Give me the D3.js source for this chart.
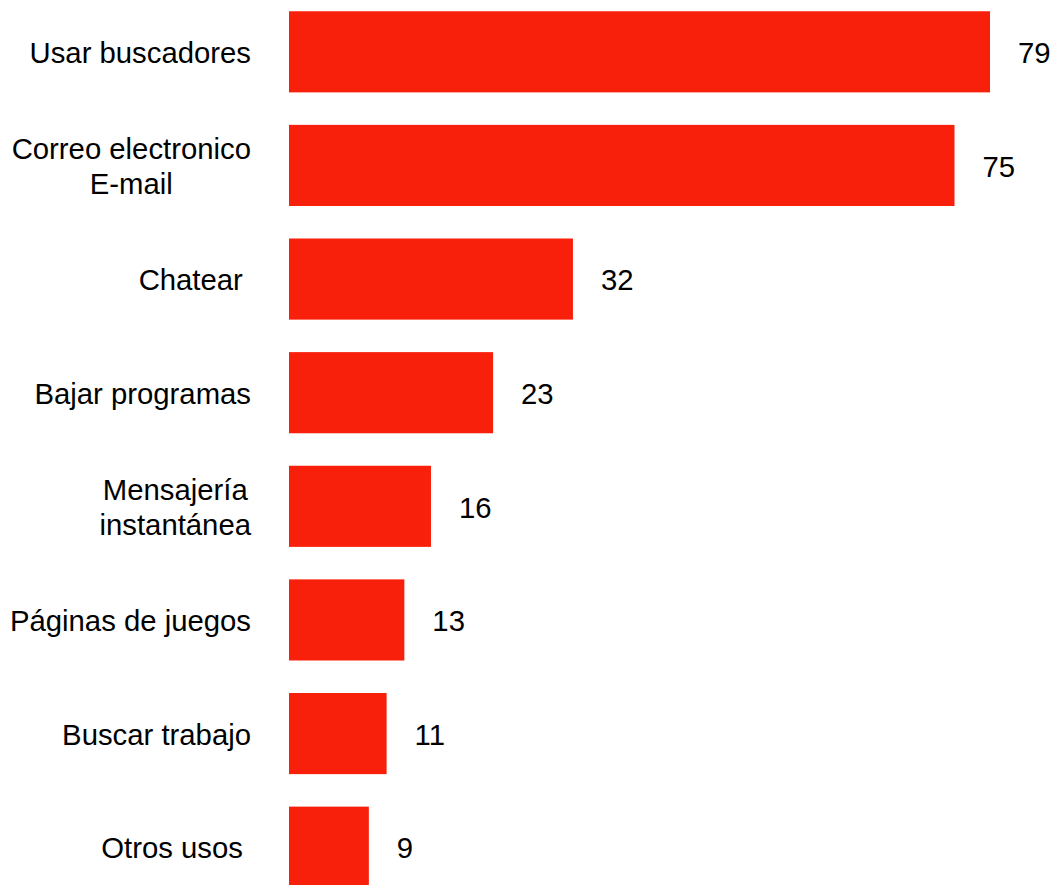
<!DOCTYPE html>
<html lang="es">
<head>
<meta charset="UTF-8">
<title>Usos de Internet</title>
<script src="https://d3js.org/d3.v7.min.js"></script>
<style>
  html, body { margin: 0; padding: 0; background: #fff; }
  svg text { font-family: "Liberation Sans", Arial, sans-serif; font-size: 29.3px; fill: #000; white-space: pre; }
</style>
</head>
<body>
<div id="chart"></div>
<script>
// data
const categories = ["Usar buscadores", "Correo electronico\nE-mail", "Chatear ", "Bajar programas",
                    "Mensajería\ninstantánea", "Páginas de juegos", "Buscar trabajo", "Otros usos "];
const values = [79, 75, 32, 23, 16, 13, 11, 9];

const width = 1056, height = 885;
const barLeft = 289, labelRight = 251;

const svg = d3.select("#chart").append("svg")
    .attr("width", width)
    .attr("height", height);

const x = d3.scaleLinear().domain([0, 79]).range([barLeft, 990]);
const y = d3.scaleBand()
    .domain(categories)
    .range([-5, 904])
    .paddingInner(0.286)
    .paddingOuter(0.143);

const rows = categories.map((c, i) => ({ cat: c, val: values[i] }));

// bars
svg.selectAll("rect.bar")
  .data(rows)
  .join("rect")
    .attr("class", "bar")
    .attr("x", x(0))
    .attr("y", d => y(d.cat))
    .attr("width", d => x(d.val) - x(0))
    .attr("height", y.bandwidth())
    .attr("fill", "#f8200b");

// value labels
svg.selectAll("text.val")
  .data(rows)
  .join("text")
    .attr("class", "val")
    .attr("x", d => x(d.val) + 28)
    .attr("y", d => y(d.cat) + y.bandwidth() / 2 + 1)
    .attr("dy", "0.35em")
    .text(d => d.val);

// category labels (multi-line ones centred within their block)
const lineH = 35;
svg.selectAll("g.cat")
  .data(rows)
  .join("g")
    .attr("class", "cat")
    .each(function(d) {
      const g = d3.select(this);
      const lines = d.cat.split("\n");
      const cy = y(d.cat) + y.bandwidth() / 2 + 1;
      const t = g.selectAll("text").data(lines).join("text")
        .attr("y", (l, i) => cy + (i - (lines.length - 1) / 2) * lineH)
        .attr("dy", "0.35em")
        .text(l => l);
      if (lines.length === 1) {
        t.attr("x", labelRight).attr("text-anchor", "end");
      } else {
        let maxW = 0;
        t.each(function() { maxW = Math.max(maxW, this.getComputedTextLength()); });
        t.attr("x", labelRight - maxW / 2).attr("text-anchor", "middle");
      }
    });
</script>
</body>
</html>
